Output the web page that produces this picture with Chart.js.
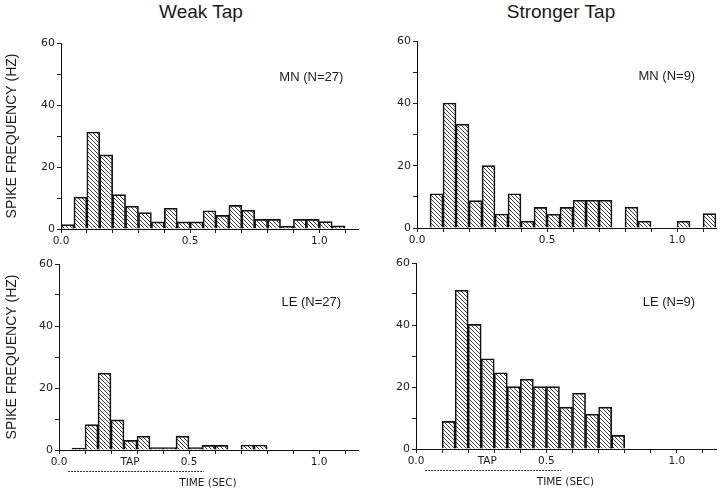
<!DOCTYPE html>
<html>
<head>
<meta charset="utf-8">
<script src="https://cdn.jsdelivr.net/npm/chart.js@4.4.1/dist/chart.umd.min.js"></script>
<style>
    html, body { margin: 0; padding: 0; background: #fff; }
    #wrap { position: relative; width: 720px; height: 492px; background: #fff; overflow: hidden; }
    #wrap canvas { position: absolute; }
    .ttl { position: absolute; top: 1px; width: 160px; text-align: center; line-height: 22px;
           font: 19px "Liberation Sans", Arial, sans-serif; color: #1a1a1a; }
</style>
</head>
<body>
<div id="wrap">
    <div class="ttl" style="left:121px">Weak Tap</div>
    <div class="ttl" style="left:481px">Stronger Tap</div>
    <canvas id="c1" width="360" height="250" style="left:0;top:0"></canvas>
    <canvas id="c2" width="360" height="250" style="left:360px;top:0"></canvas>
    <canvas id="c3" width="360" height="242" style="left:0;top:250px"></canvas>
    <canvas id="c4" width="360" height="242" style="left:360px;top:250px"></canvas>
</div>
<script>
    // 50 ms bins, start time of each bin (sec)
    const binStart = [0.00, 0.05, 0.10, 0.15, 0.20, 0.25, 0.30, 0.35, 0.40, 0.45, 0.50, 0.55,
        0.60, 0.65, 0.70, 0.75, 0.80, 0.85, 0.90, 0.95, 1.00, 1.05, 1.10];
    const BIN = 0.05;

    // spike frequency (Hz) per bin
    const mnWeak = [1.4, 10.3, 31.3, 23.9, 11.1, 7.4, 5.3, 2.3, 6.7, 2.3, 2.3, 5.9,
        4.4, 7.6, 6.1, 3.1, 3.1, 0.9, 3.1, 3.1, 2.4, 1.0, 0];
    const mnStrong = [0, 11.0, 40.1, 33.3, 8.8, 20.0, 4.5, 11.0, 2.2, 6.6, 4.4, 6.6,
        8.9, 8.9, 8.9, 0, 6.7, 2.2, 0, 0, 2.2, 0, 4.6];
    const leWeak = [0, 0.6, 8.2, 24.8, 9.7, 3.1, 4.5, 0.8, 0.8, 4.5, 0.8, 1.5,
        1.5, 0, 1.6, 1.6, 0, 0, 0, 0, 0, 0, 0];
    const leStrong = [0, 0, 8.9, 51.2, 40.2, 29.1, 24.6, 20.1, 22.5, 20.1, 20.1, 13.5,
        18.0, 11.2, 13.5, 4.4, 0, 0, 0, 0, 0, 0, 0];

    const xLabels = [0.0, 0.5, 1.0];
    const yLabels = [0, 20, 40, 60];
    const tapOn = 0.035, tapOff = 0.557;

    const TICK_FONT = '"DejaVu Sans", sans-serif';
    const INK = '#1c1c1c';

    function hatch() {
        const t = document.createElement('canvas');
        t.width = 4; t.height = 4;
        const g = t.getContext('2d');
        g.strokeStyle = '#2a2a2a';
        g.lineWidth = 0.9;
        g.beginPath();
        g.moveTo(-1, -1); g.lineTo(5, 5);
        g.moveTo(-1, 3); g.lineTo(1, 5);
        g.moveTo(3, -1); g.lineTo(5, 1);
        g.stroke();
        return g.createPattern(t, 'repeat');
    }

    const near = (v, list) => list.some(l => Math.abs(v - l) < 1e-6);

    const panelText = {
        id: 'panelText',
        afterDraw(chart, args, o) {
            const {ctx} = chart;
            const x = chart.scales.x, y = chart.scales.y;
            ctx.save();
            ctx.fillStyle = INK;
            ctx.font = '13px "Liberation Sans", Arial, sans-serif';
            ctx.textAlign = 'right';
            ctx.textBaseline = 'middle';
            ctx.fillText(o.label, x.getPixelForValue(o.lx), y.getPixelForValue(o.ly));
            if (o.tap) {
                const base = y.getPixelForValue(0);
                ctx.font = '10.5px ' + TICK_FONT;
                ctx.textAlign = 'center';
                ctx.fillText('TAP', x.getPixelForValue(0.273), base + 12);
                ctx.fillText('TIME (SEC)', x.getPixelForValue(0.573), base + 33);
                ctx.strokeStyle = '#333';
                ctx.lineWidth = 1;
                ctx.setLineDash([2, 1]);
                ctx.beginPath();
                ctx.moveTo(x.getPixelForValue(tapOn), base + 21.5);
                ctx.lineTo(x.getPixelForValue(tapOff), base + 21.5);
                ctx.stroke();
            }
            ctx.restore();
        }
    };

    const panels = [
        {id: 'c1', vals: mnWeak, label: 'MN (N=27)', lx: 1.093, ly: 49, padTop: 43, padRight: 2, yW: 61, xH: 21, yTitle: true, tap: false},
        {id: 'c2', vals: mnStrong, label: 'MN (N=9)', lx: 1.07, ly: 48.7, padTop: 41, padRight: 4, yW: 57, xH: 22, yTitle: false, tap: false},
        {id: 'c3', vals: leWeak, label: 'LE (N=27)', lx: 1.085, ly: 47.7, padTop: 14, padRight: 2, yW: 59, xH: 42, yTitle: true, tap: true},
        {id: 'c4', vals: leStrong, label: 'LE (N=9)', lx: 1.07, ly: 47.4, padTop: 13, padRight: 4, yW: 56, xH: 43, yTitle: false, tap: true}
    ];

    function draw(p) {
        const pattern = hatch();
        new Chart(document.getElementById(p.id), {
            type: 'bar',
            data: {
                datasets: [{
                    data: binStart.map((s, i) => ({x: s + BIN / 2, y: p.vals[i]})),
                    backgroundColor: pattern,
                    borderColor: '#111',
                    borderWidth: 1,
                    barPercentage: 1,
                    categoryPercentage: 1
                }]
            },
            options: {
                responsive: false,
                animation: false,
                layout: {padding: {top: p.padTop, right: p.padRight, left: 0, bottom: 0}},
                plugins: {
                    legend: {display: false},
                    tooltip: {enabled: false},
                    panelText: {label: p.label, lx: p.lx, ly: p.ly, tap: p.tap}
                },
                scales: {
                    x: {
                        type: 'linear',
                        offset: false,
                        min: 0, max: 1.15,
                        afterFit: s => { s.height = p.xH; },
                        border: {color: '#111', width: 1},
                        grid: {drawOnChartArea: false, drawTicks: true, tickLength: 4, color: '#222', offset: false},
                        ticks: {
                            stepSize: 0.1, includeBounds: false, autoSkip: false, maxRotation: 0,
                            padding: 2, color: INK, font: {family: TICK_FONT, size: 10.5},
                            callback: v => near(v, xLabels) ? v.toFixed(1) : ''
                        }
                    },
                    y: {
                        min: 0, max: 60,
                        afterFit: s => { s.width = p.yW; },
                        border: {color: '#111', width: 1},
                        grid: {drawOnChartArea: false, drawTicks: true, tickLength: 4, color: '#222'},
                        ticks: {
                            stepSize: 10, padding: 2, color: INK, font: {family: TICK_FONT, size: 11},
                            callback: v => near(v, yLabels) ? String(v) : ''
                        },
                        title: {
                            display: p.yTitle,
                            text: 'SPIKE FREQUENCY (HZ)',
                            color: INK,
                            font: {family: '"Liberation Sans", Arial, sans-serif', size: 14},
                            padding: {top: 4, bottom: 0}
                        }
                    }
                }
            },
            plugins: [panelText]
        });
    }

    panels.forEach(draw);
</script>
</body>
</html>
